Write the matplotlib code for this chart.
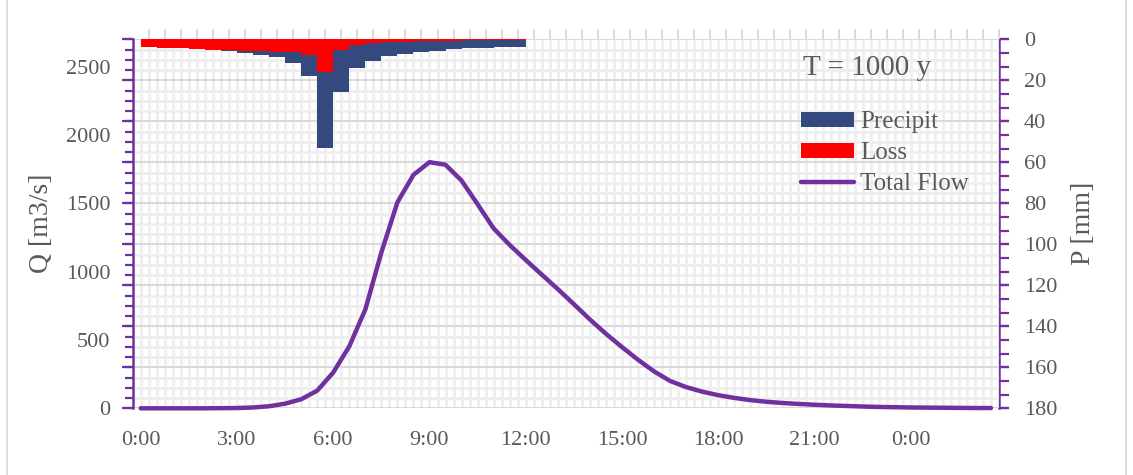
import numpy as np
import matplotlib
matplotlib.use("Agg")
import matplotlib.pyplot as plt
from matplotlib.ticker import MultipleLocator, FixedLocator, FuncFormatter
from matplotlib.patches import Patch
from matplotlib.lines import Line2D

# ---- data -------------------------------------------------------------
step_h = 0.5  # time step of the hydrograph / hyetograph [h]

# rainfall per 30-min block [mm]
precip_mm = [3.8, 4.0, 4.3, 4.7, 5.2, 5.8, 6.8, 7.5, 8.8, 11.4, 17.9, 53.2,
             25.9, 14.1, 10.4, 8.2, 7.2, 6.1, 5.5, 4.9, 4.4, 4.1, 3.9, 3.6]
# losses per 30-min block [mm]
loss_mm = [3.8, 4.0, 4.3, 4.7, 5.0, 5.3, 5.5, 5.7, 6.0, 6.4, 7.5, 16.1,
           5.2, 2.8, 1.9, 1.4, 1.1, 0.9, 0.7, 0.6, 0.5, 0.4, 0.4, 0.3]
# total flow at the outlet [m3/s]
total_flow = [0, 0, 0, 0, 0, 1, 2, 6, 15, 34,
              66, 129, 262, 453, 723, 1140, 1507, 1708, 1801, 1782,
              1666, 1493, 1316, 1195, 1085, 978, 872, 762, 650, 545,
              448, 355, 270, 200, 155, 122, 96, 76, 60, 48,
              39, 32, 26, 21, 17, 13, 10, 8, 6, 5,
              4, 3, 2, 2]
x_tick_hours = [0, 3, 6, 9, 12, 15, 18, 21, 24]
q_ticks = [0, 500, 1000, 1500, 2000, 2500]
p_ticks = [0, 20, 40, 60, 80, 100, 120, 140, 160, 180]
legend_labels = ["Precipit", "Loss", "Total Flow"]
title_text = "T = 1000 y"

# ---- style ------------------------------------------------------------
plt.rcParams['font.family'] = ['Liberation Serif', 'DejaVu Serif']
PURPLE = '#7030A0'
BLUE = '#344A7E'
RED = '#FF0000'
GRAY = '#595959'
GRID_MAJ = '#d9d9d9'
GRID_MIN = '#efefef'

W, H = 1133, 475
fig = plt.figure(figsize=(W / 100, H / 100), dpi=100)
fig.patch.set_facecolor('white')

left_px, right_px, top_px, bot_px = 132.7, 999.0, 39.3, 408.3
ax = fig.add_axes([left_px / W, 1 - bot_px / H,
                   (right_px - left_px) / W, (bot_px - top_px) / H])
ax2 = ax.twinx()
ax.set_zorder(2)
ax2.set_zorder(1)
ax.patch.set_visible(False)
ax2.patch.set_visible(True)
ax2.patch.set_facecolor('white')

t_flow = np.arange(len(total_flow)) * step_h
t_rain = np.arange(len(precip_mm)) * step_h

# ---- hyetograph on the right (inverted) axis ---------------------------
ax2.bar(t_rain, precip_mm, width=step_h, align='edge', color=BLUE,
        linewidth=0, zorder=2)
ax2.bar(t_rain, loss_mm, width=step_h, align='edge', color=RED,
        linewidth=0, zorder=3)
ax2.set_ylim(180, 0)
ax2.yaxis.set_major_locator(FixedLocator(p_ticks))
ax2.yaxis.set_minor_locator(MultipleLocator(5))
ax2.xaxis.set_visible(True)
ax2.xaxis.set_minor_locator(MultipleLocator(0.25))
ax2.xaxis.remove_overlapping_locs = False
ax2.tick_params(axis='x', which='both', length=0, labelbottom=False,
                labeltop=False)
ax2.set_axisbelow(True)
ax2.grid(which='minor', axis='x', color=GRID_MIN, lw=2.0)
ax2.grid(which='minor', axis='y', color=GRID_MIN, lw=2.0)
ax2.grid(which='major', axis='y', color=GRID_MAJ, lw=1.4)
ax2.tick_params(axis='y', which='major', length=7, width=1.6, color=PURPLE,
                pad=11, labelsize=16, labelcolor=GRAY)
ax2.tick_params(axis='y', which='minor', length=0)
ax2.set_ylabel("P [mm]", fontsize=20, color=GRAY, rotation=90)
ax2.yaxis.label.set_va('center')
ax2.yaxis.set_label_coords((1084 - left_px) / (right_px - left_px), 0.5)

sec_r = ax2.secondary_yaxis('right')
sec_r.yaxis.set_major_locator(MultipleLocator(20 / 3))
sec_r.tick_params(length=7, width=1.6, color=PURPLE, labelright=False)
sec_r.spines['right'].set_color(PURPLE)
sec_r.spines['right'].set_linewidth(1.8)

# ---- hydrograph on the left axis -------------------------------------
ax.plot(t_flow, total_flow, color=PURPLE, lw=3.2, solid_capstyle='round',
        solid_joinstyle='round', zorder=5, clip_on=False)
ax.set_xlim(-0.25, 26.75)
ax.set_ylim(0, 2700)
ax.yaxis.set_major_locator(FixedLocator(q_ticks))
ax.yaxis.set_minor_locator(MultipleLocator(75))
ax.yaxis.remove_overlapping_locs = False
ax.tick_params(axis='y', which='major', length=0, pad=16, labelsize=16,
               labelcolor=GRAY)
ax.tick_params(axis='y', which='minor', length=6, width=1.6, color=PURPLE)
ax.xaxis.set_major_locator(FixedLocator(x_tick_hours))
ax.xaxis.set_major_formatter(FuncFormatter(lambda v, p: f"{int(round(v)) % 24}:00"))
ax.tick_params(axis='x', which='both', length=0, pad=16, labelsize=16,
               labelcolor=GRAY)
ax.set_ylabel("Q [m3/s]", fontsize=20, color=GRAY)
ax.yaxis.label.set_va('center')
ax.yaxis.set_label_coords((41 - left_px) / (right_px - left_px), 0.5)

sec_l = ax.secondary_yaxis('left')
sec_l.yaxis.set_major_locator(MultipleLocator(300))
sec_l.tick_params(length=8, width=1.6, color=PURPLE, labelleft=False)
sec_l.spines['left'].set_color(PURPLE)
sec_l.spines['left'].set_linewidth(1.8)

# category tick marks of the rainfall axis along the top
sec_t = ax.secondary_xaxis('top')
sec_t.xaxis.set_major_locator(FixedLocator(np.arange(len(total_flow)) * step_h + step_h / 2))
sec_t.tick_params(length=7, width=1.4, color=GRID_MAJ, labeltop=False)
sec_t.spines['top'].set_visible(False)

for a in (ax, ax2):
    for s in a.spines.values():
        s.set_visible(False)

# ---- legend and annotation ------------------------------------------
handles = [Patch(facecolor=BLUE, edgecolor='none'),
           Patch(facecolor=RED, edgecolor='none'),
           Line2D([], [], color=PURPLE, lw=3.2, solid_capstyle='round')]
fig.legend(handles, legend_labels, loc='upper left',
           bbox_to_anchor=(801 / W, 1 - 111 / H), bbox_transform=fig.transFigure,
           frameon=False, fontsize=18, labelcolor=GRAY, handlelength=2.1,
           handleheight=0.55, handletextpad=0.25, labelspacing=0.37,
           borderpad=0, borderaxespad=0)
fig.text(803 / W, 1 - 68 / H, title_text, fontsize=21, color=GRAY,
         ha='left', va='center')

# chart-area border
for xb in (7, 1126):
    fig.add_artist(Line2D([xb / W, xb / W], [0, 1], transform=fig.transFigure,
                          color=GRID_MAJ, lw=1.3))

fig.savefig("out.png", dpi=100)
